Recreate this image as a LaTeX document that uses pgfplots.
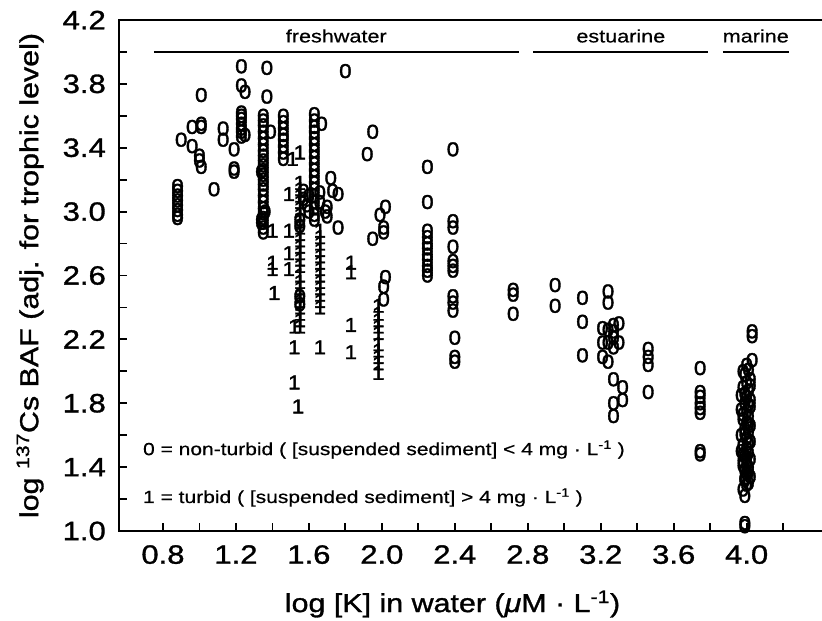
\documentclass[border=0pt]{standalone}
\usepackage{fontspec}
\setmainfont{Liberation Sans}[FakeStretch=1.2]
\newfontfamily\markfont{Liberation Sans}[FakeStretch=1.12, FakeBold=1.8]
\newfontfamily\heavy{Liberation Sans}[FakeStretch=1.17, FakeBold=1.2]
\newfontfamily\semi{Liberation Sans}[FakeStretch=1.2, FakeBold=0.6]
\usepackage{pgfplots}
\pgfplotsset{compat=1.18}
\usetikzlibrary{calc}
\newcommand\mk{\markfont\fontsize{20}{20}\selectfont}
\newcommand\tk{\heavy\fontsize{26.5}{26.5}\selectfont}
\newcommand\ttl{\heavy\fontsize{26}{26}\selectfont}
\newcommand\ann{\semi\fontsize{18}{18}\selectfont}
\newcommand\leg{\semi\fontsize{17.5}{17.5}\selectfont}

\begin{document}
\begin{tikzpicture}
\begin{axis}[
  width=703pt, height=511pt, scale only axis,
  xmin=0.559, xmax=4.413, ymin=1.0, ymax=4.2,
  axis line style={draw=none},
  xtick={0.8,1.2,...,4.0}, minor xtick={1.0,1.4,...,4.2},
  ytick={1.0,1.4,...,4.2}, minor ytick={1.2,1.6,...,4.0},
  tick pos=left, tick align=inside,
  major tick length=8pt, minor tick length=8pt,
  tick style={black, line width=1.8pt},
  /pgf/number format/.cd, fixed, fixed zerofill, precision=1, assume math mode=true,
  /pgfplots/.cd,
  ticklabel style={font=\tk, inner sep=0pt},
  xticklabel style={yshift=-14pt},
  yticklabel style={xshift=-13pt},
  clip=false]
% axis frame: left, bottom, top (right edge is cut off)
\draw[line width=2.4pt] (rel axis cs:1,1) -- (rel axis cs:0,1) -- (rel axis cs:0,0) -- (rel axis cs:1,0);
% habitat bars
\draw[line width=1.7pt] (axis cs:0.75,4.0) -- (axis cs:2.75,4.0);
\draw[line width=1.7pt] (axis cs:2.83,4.0) -- (axis cs:3.79,4.0);
\draw[line width=1.7pt] (axis cs:3.87,4.0) -- (axis cs:4.23,4.0);
\node[font=\ann] at (axis cs:1.75,4.10) {freshwater};
\node[font=\ann] at (axis cs:3.31,4.10) {estuarine};
\node[font=\ann] at (axis cs:4.05,4.10) {marine};
% key
\node[font=\leg, anchor=west, inner sep=0pt] at (axis cs:0.69,1.51) {0 = non-turbid ( [suspended sediment] < 4 mg · L\textsuperscript{-1} )};
\node[font=\leg, anchor=west, inner sep=0pt] at (axis cs:0.69,1.21) {1 = turbid ( [suspended sediment] > 4 mg · L\textsuperscript{-1} )};
% axis titles
\node[font=\ttl, rotate=90] at ([xshift=-89pt]rel axis cs:0,0.5) {log \textsuperscript{137}Cs BAF (adj. for trophic level)};
\node[font=\ttl] at ([xshift=-18pt,yshift=-73pt]rel axis cs:0.5,0) {log [K] in water (\textit{μ}M · L\textsuperscript{-1})};
\coordinate (sw) at (rel axis cs:0,0);
\coordinate (ne) at (rel axis cs:1,1);

% non-turbid
\addplot[only marks, mark=text, text mark={0}, text mark as node=true, text mark style={font=\mk, inner sep=0pt}] coordinates {
(0.88,3.16)(0.88,3.13)(0.88,3.10)(0.88,3.07)(0.88,3.04)(0.88,3.01)(0.88,2.98)(0.88,2.96)
(0.90,3.45)(0.96,3.53)(0.96,3.41)
(1.01,3.73)(1.01,3.53)(1.01,3.55)(1.00,3.35)(1.00,3.32)(1.01,3.28)
(1.08,3.14)(1.13,3.52)(1.13,3.45)(1.19,3.39)(1.19,3.27)(1.19,3.25)
(1.23,3.91)(1.23,3.79)(1.25,3.75)(1.23,3.62)(1.23,3.60)(1.23,3.58)(1.23,3.55)(1.23,3.52)(1.23,3.50)(1.23,3.47)(1.25,3.48)
(1.37,3.90)(1.37,3.72)(1.35,3.60)(1.35,3.57)(1.35,3.54)(1.35,3.50)(1.35,3.46)(1.35,3.42)(1.35,3.38)(1.35,3.35)
(1.35,3.32)(1.35,3.29)(1.35,3.26)(1.35,3.23)(1.35,3.20)(1.35,3.17)(1.35,3.14)(1.35,3.10)(1.35,3.06)(1.35,3.02)
(1.35,2.99)(1.35,2.96)(1.35,2.93)(1.35,2.90)(1.35,2.87)(1.39,3.50)(1.34,2.95)(1.34,2.93)(1.36,3.00)(1.34,3.25)
(1.46,3.60)(1.46,3.56)(1.46,3.52)(1.46,3.48)(1.46,3.45)(1.46,3.41)(1.46,3.37)(1.46,3.33)
(1.63,3.61)(1.63,3.57)(1.63,3.53)(1.63,3.50)(1.63,3.46)(1.63,3.42)(1.63,3.38)(1.63,3.34)(1.63,3.30)(1.63,3.26)
(1.63,3.22)(1.63,3.18)(1.63,3.14)(1.63,3.10)(1.63,3.06)(1.63,3.02)(1.63,2.98)(1.63,2.95)(1.67,3.55)
(1.57,3.13)(1.57,3.08)(1.59,3.04)(1.66,3.12)(1.66,3.06)(1.69,3.00)(1.60,3.10)(1.60,3.00)(1.55,2.95)(1.55,2.91)
(1.55,2.47)(1.55,2.42)
(1.72,3.21)(1.73,3.13)(1.76,3.11)(1.70,3.03)(1.70,2.97)(1.76,2.90)
(1.80,3.88)(1.95,3.50)(1.92,3.36)
(2.02,3.03)(1.99,2.98)(2.01,2.90)(2.01,2.87)(1.95,2.83)(2.02,2.59)(2.01,2.53)(2.01,2.45)
(2.25,3.28)(2.25,3.06)(2.25,2.88)(2.25,2.84)(2.25,2.80)(2.25,2.77)(2.25,2.73)(2.25,2.70)(2.25,2.66)(2.25,2.63)(2.25,2.60)
(2.39,3.39)(2.39,2.94)(2.39,2.90)(2.39,2.78)(2.39,2.69)(2.39,2.66)(2.39,2.63)(2.39,2.47)(2.39,2.43)(2.39,2.38)
(2.40,2.21)(2.40,2.09)(2.40,2.06)
(2.72,2.51)(2.72,2.48)(2.72,2.36)
(2.95,2.54)(2.95,2.41)
(3.10,2.46)(3.10,2.31)(3.10,2.10)
(3.24,2.50)(3.24,2.43)(3.21,2.27)(3.21,2.18)(3.21,2.09)(3.24,2.26)(3.24,2.18)(3.24,2.06)(3.27,2.29)(3.27,2.25)
(3.27,2.21)(3.27,2.15)(3.30,2.30)(3.30,2.18)(3.27,1.95)(3.32,1.90)(3.32,1.82)(3.27,1.80)(3.27,1.72)
(3.46,2.14)(3.46,2.09)(3.46,2.04)(3.46,1.87)
(3.745,2.02)(3.745,1.87)(3.745,1.84)(3.745,1.80)(3.745,1.77)(3.745,1.74)(3.745,1.50)(3.745,1.48)
(4.03,2.25)(4.03,2.22)(4.03,2.07)
(4.00,2.04)(4.01,2.01)(3.99,1.98)(4.02,1.95)(4.00,1.93)(3.98,1.90)(4.01,1.88)(3.97,1.85)(4.00,1.84)(4.02,1.82)
(3.99,1.80)(4.02,1.78)(3.97,1.76)(4.00,1.75)(4.01,1.72)(3.98,1.70)(4.00,1.68)(4.02,1.66)(3.99,1.64)(4.01,1.62)
(3.97,1.60)(4.00,1.58)(4.02,1.56)(3.98,1.54)(4.00,1.52)(3.97,1.50)(4.01,1.49)(3.99,1.47)(4.02,1.45)(3.98,1.44)
(4.00,1.42)(4.01,1.40)(3.99,1.38)(4.00,1.36)(4.02,1.34)(3.99,1.32)(4.00,1.29)(3.98,1.26)(3.99,1.22)
(3.98,2.00)(4.02,1.91)(3.99,1.86)(4.01,1.79)(3.98,1.73)(4.01,1.67)(3.99,1.61)(4.01,1.55)(3.98,1.48)(4.00,1.46)
(3.98,1.41)(4.01,1.37)(3.99,1.33)(4.01,1.30)
(3.99,1.05)(3.99,1.03)
};
% turbid
\addplot[only marks, mark=text, text mark={1}, text mark as node=true, text mark style={font=\mk, inner sep=0pt}] coordinates {
(1.40,2.88)(1.49,2.88)(1.49,3.11)(1.49,2.74)(1.49,2.64)(1.40,2.68)(1.40,2.64)(1.41,2.49)
(1.51,3.33)(1.55,3.37)
(1.55,3.18)(1.55,3.14)(1.55,3.10)(1.55,3.06)(1.55,3.02)(1.55,2.98)(1.55,2.94)(1.55,2.90)(1.55,2.86)(1.55,2.82)
(1.55,2.78)(1.55,2.74)(1.55,2.70)(1.55,2.66)(1.55,2.60)(1.55,2.56)(1.55,2.52)(1.55,2.48)(1.55,2.44)(1.55,2.40)
(1.55,2.36)(1.55,2.32)(1.55,2.28)
(1.66,2.88)(1.66,2.84)(1.66,2.80)(1.66,2.76)(1.66,2.72)(1.66,2.68)(1.66,2.64)(1.66,2.60)(1.66,2.56)(1.66,2.52)
(1.66,2.48)(1.66,2.44)(1.66,2.40)
(1.52,2.28)(1.52,2.15)(1.52,1.93)(1.54,1.78)(1.66,2.15)
(1.83,2.68)(1.83,2.62)(1.83,2.29)(1.83,2.12)
(1.98,2.41)(1.98,2.36)(1.98,2.32)(1.98,2.28)(1.98,2.24)(1.98,2.17)(1.98,2.13)(1.98,2.09)(1.98,2.05)(1.98,1.99)
};
\end{axis}
\pgfresetboundingbox
\path[use as bounding box] ([shift={(-119pt,-90pt)}]sw) rectangle ([shift={(0pt,20pt)}]ne);
\end{tikzpicture}
\end{document}
